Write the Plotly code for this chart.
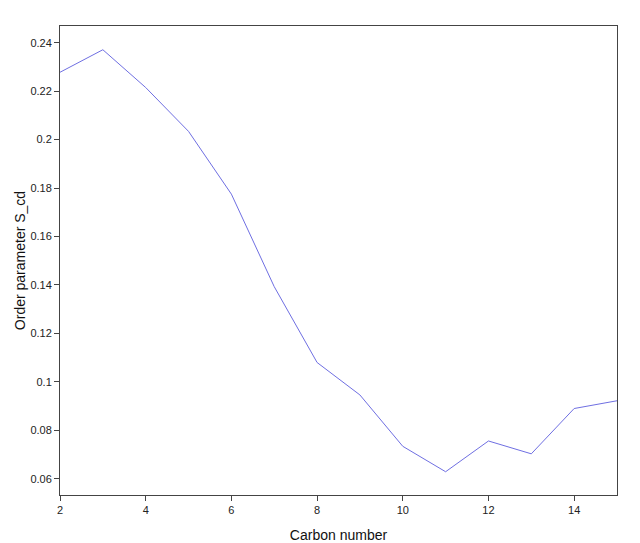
import plotly.graph_objects as go

carbon = [2, 3, 4, 5, 6, 7, 8, 9, 10, 11, 12, 13, 14, 15]
s_cd = [0.2278, 0.2371, 0.2215, 0.2034, 0.1775, 0.1393, 0.1080, 0.0946,
        0.0734, 0.0629, 0.0756, 0.0703, 0.0890, 0.0922]

x_ticks = [2, 4, 6, 8, 10, 12, 14]
y_ticks = [0.06, 0.08, 0.1, 0.12, 0.14, 0.16, 0.18, 0.2, 0.22, 0.24]
y_labels = ["0.06", "0.08", "0.1", "0.12", "0.14", "0.16", "0.18", "0.2", "0.22", "0.24"]

fig = go.Figure(go.Scatter(x=carbon, y=s_cd, mode="lines",
                           line=dict(color="#6f6fe2", width=1)))

axis_style = dict(showline=True, linecolor="#444", linewidth=1, mirror=True,
                  ticks="outside", ticklen=5, tickcolor="#444",
                  showgrid=False, zeroline=False, automargin=True,
                  tickfont=dict(size=11, color="#222"))

# page body adds an 8px offset, margins account for it
fig.update_layout(
    width=640, height=543,
    margin=dict(l=52, r=31, t=18, b=56),
    paper_bgcolor="white", plot_bgcolor="white",
    font=dict(family="Liberation Sans, Arial, sans-serif", color="#111"),
    showlegend=False,
    xaxis=dict(range=[2, 15], tickvals=x_ticks,
               title=dict(text="Carbon number", font=dict(size=14), standoff=14),
               **axis_style),
    yaxis=dict(range=[0.0533, 0.2469], tickvals=y_ticks, ticktext=y_labels,
               title=dict(text="Order parameter S_cd", font=dict(size=14), standoff=1),
               **axis_style),
)

fig.write_html("out.html")
